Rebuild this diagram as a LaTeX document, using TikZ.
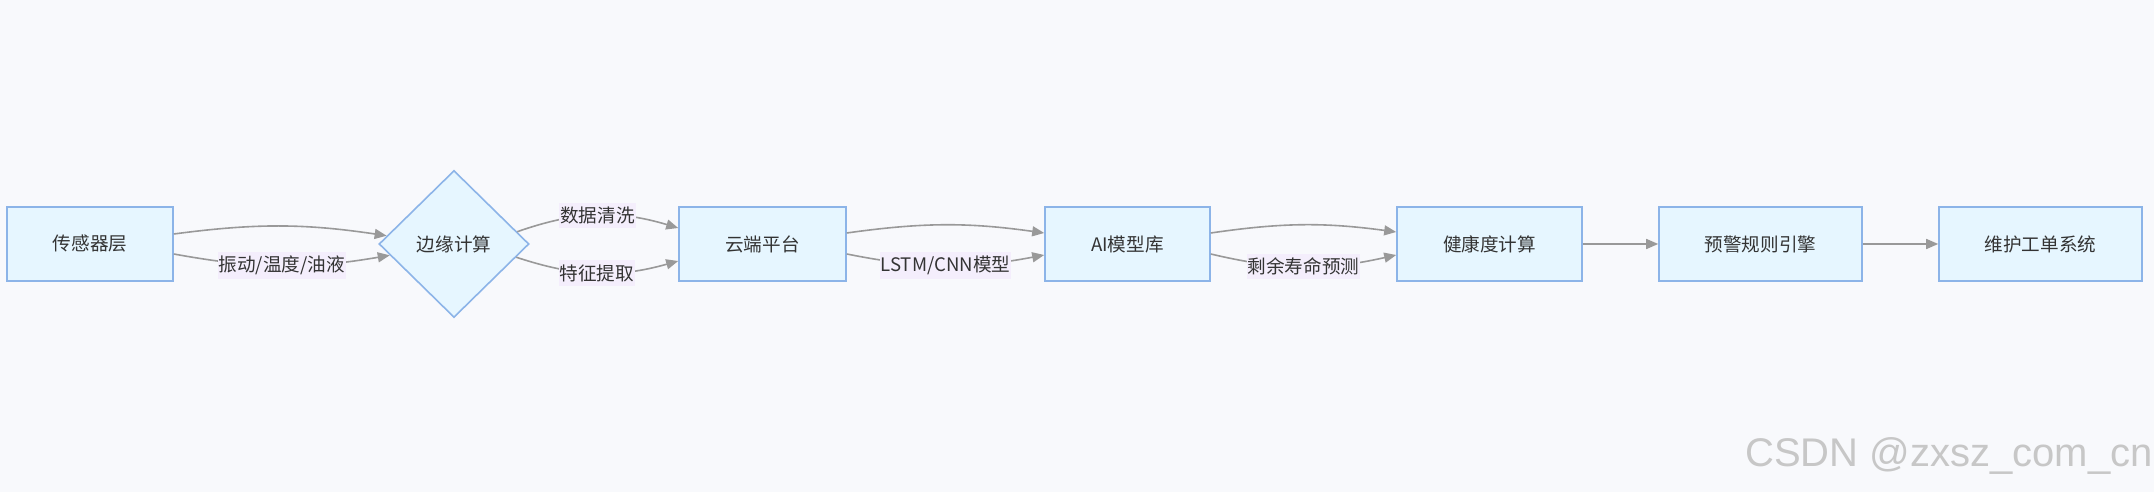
\documentclass[tikz,border=0pt]{standalone}
\usepackage{fontspec}
\setmainfont{Noto Sans CJK SC}
\newfontfamily\wmfont{Liberation Sans}
\usetikzlibrary{shapes.geometric, arrows.meta}
\definecolor{bgcol}{RGB}{248,249,252}
\definecolor{boxfill}{RGB}{230,246,255}
\definecolor{boxline}{RGB}{140,180,232}
\definecolor{lblfill}{RGB}{244,238,252}
\definecolor{linecol}{RGB}{153,153,153}
\definecolor{txtcol}{RGB}{51,51,51}

\begin{document}
\begin{tikzpicture}[x=0.5pt, y=0.5pt, >={Triangle[length=6pt,width=5pt]},
    stage/.style={draw=boxline, line width=0.8pt, fill=boxfill, text=txtcol,
      minimum height=37pt, inner sep=0pt, font=\fontsize{9.3pt}{11pt}\selectfont},
    gate/.style={diamond, aspect=1, draw=boxline, line width=0.8pt, fill=boxfill,
      text=txtcol, minimum width=75pt, minimum height=73.5pt, inner sep=0pt,
      font=\fontsize{9.3pt}{11pt}\selectfont},
    flow/.style={->, draw=linecol, line width=0.8pt},
    lbl/.style={fill=lblfill, text=txtcol, inner xsep=0.5pt, inner ysep=2pt,
      font=\fontsize{9.3pt}{11pt}\selectfont}]
  %--- Canvas
  \useasboundingbox (0,0) rectangle (2154,492);
  \fill[bgcol] (0,0) rectangle (2154,492);
  %--- Stages
  \node[stage, minimum width=83pt]   (sensor) at (90,248)     {传感器层};
  \node[gate]                        (edge)   at (454,248)    {边缘计算};
  \node[stage, minimum width=83.5pt] (cloud)  at (762.5,248)  {云端平台};
  \node[stage, minimum width=82.5pt] (ai)     at (1127.5,248) {AI模型库};
  \node[stage, minimum width=92.5pt] (health) at (1489.5,248) {健康度计算};
  \node[stage, minimum width=101.5pt] (alarm) at (1760.5,248) {预警规则引擎};
  \node[stage, minimum width=101.5pt] (order) at (2040.5,248) {维护工单系统};
  %--- Flows
  \draw[flow] ([yshift=5pt]sensor.east) to[bend left=8] (edge.173);
  \draw[flow] ([yshift=-5pt]sensor.east) to[bend right=10]
    node[lbl] (vib) {振动/温度/油液} (edge.190);
  \draw[flow] (edge.11) to[bend left=18]
    node[lbl] (clean) {数据清洗} ([yshift=8pt]cloud.west);
  \draw[flow] (edge.-12) to[bend right=17]
    node[lbl] (feat) {特征提取} ([yshift=-8.5pt]cloud.west);
  \draw[flow] ([yshift=5.5pt]cloud.east) to[bend left=8] ([yshift=5.5pt]ai.west);
  \draw[flow] ([yshift=-5pt]cloud.east) to[bend right=11]
    node[lbl] (model) {LSTM/CNN模型} ([yshift=-5.5pt]ai.west);
  \draw[flow] ([yshift=5.5pt]ai.east) to[bend left=8] ([yshift=6pt]health.west);
  \draw[flow] ([yshift=-5pt]ai.east) to[bend right=13]
    node[lbl] (rul) {剩余寿命预测} ([yshift=-5.5pt]health.west);
  \draw[flow] (health) -- (alarm);
  \draw[flow] (alarm) -- (order);
  %--- Watermark
  \node[text=black!22, font=\wmfont\fontsize{20pt}{24pt}\selectfont]
    (wm) at (1949,36) {CSDN @zxsz\_com\_cn};
\end{tikzpicture}
\end{document}
